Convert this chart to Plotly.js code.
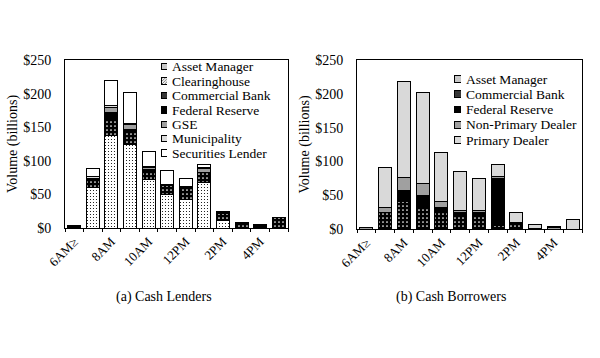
<!DOCTYPE html>
<html>
<head>
<meta charset="utf-8">
<script src="https://cdn.plot.ly/plotly-3.0.1.min.js"></script>
<style>html,body{margin:0;padding:0;background:#fff;}#chart{width:600px;height:358px;}</style>
</head>
<body>
<div id="chart"></div>
<script>
// ---- data ----
const hours = ['6AM≥','7AM','8AM','9AM','10AM','11AM','12PM','1PM','2PM','3PM','4PM','5PM'];
const hourLabels = ['6AM≥','','8AM','','10AM','','12PM','','2PM','','4PM',''];

// (a) Cash Lenders, $ billions
const lenderNames = ['Asset Manager','Clearinghouse','Commercial Bank','Federal Reserve','GSE','Municipality','Securities Lender'];
const lendAssetManager   = [0, 60, 137, 124, 72, 50, 43, 68, 11, 0, 0, 0];
const lendClearinghouse  = [0, 0, 0, 0, 0, 0, 0, 0, 0, 0, 0, 0];
const lendCommercialBank = [0, 10, 24, 21, 14, 13, 16, 14, 10, 7, 0, 16];
const lendFederalReserve = [3, 2, 11, 2, 1, 2, 2, 1, 0, 1, 5, 0];
const lendGSE            = [0, 1, 8, 7, 3, 0, 1, 5, 1, 0, 0, 0];
const lendMunicipality   = [0, 3, 3, 2, 2, 0, 0, 2, 1, 0, 0, 0];
const lendSecLender      = [0, 13, 36, 46, 22, 21, 12, 5, 2, 0, 0, 0];

// (b) Cash Borrowers, $ billions
const borrowerNames = ['Asset Manager','Commercial Bank','Federal Reserve','Non-Primary Dealer','Primary Dealer'];
const borAssetManager   = [0, 0, 1, 1, 0, 0, 0, 0, 0, 0, 0, 0];
const borCommercialBank = [0, 24, 40, 33, 25, 20, 18, 5, 6, 1, 0, 0];
const borFederalReserve = [0, 0, 16, 15, 7, 5, 6, 70, 3, 0, 0, 0];
const borNonPrimary     = [1.5, 8, 19, 18, 8, 3, 4, 2, 0, 0, 2, 0];
const borPrimary        = [0, 59, 142, 135, 73, 57, 46, 18, 15, 6, 2, 14];

const yTickVals = [0, 50, 100, 150, 200, 250];
const yTickText = ['$0','$50','$100','$150','$200','$250'];

// ---- styles ----
const FONT = 'Liberation Serif';
const styles = {
  'Asset Manager':      {color:'#ffffff', pattern:{shape:'.', fgcolor:'#000000', bgcolor:'#ffffff', size:3, solidity:0.12}},
  'Clearinghouse':      {color:'#ffffff', pattern:{shape:'/', fgcolor:'#000000', bgcolor:'#ffffff', size:3, solidity:0.3}},
  'Commercial Bank':    {color:'#000000', pattern:{shape:'.', fgcolor:'#ffffff', bgcolor:'#000000', size:4, solidity:0.15}},
  'Federal Reserve':    {color:'#000000'},
  'GSE':                {color:'#a0a0a0'},
  'Municipality':       {color:'#dcdcdc'},
  'Securities Lender':  {color:'#ffffff'},
  'Non-Primary Dealer': {color:'#a0a0a0'},
  'Primary Dealer':     {color:'#d9d9d9'}
};
function mk(name, small){
  const s = styles[name];
  const m = {color:s.color, line:{color:'#000', width:1}};
  if (s.pattern) {
    m.pattern = Object.assign({}, s.pattern);
    if (small) { m.pattern.size = 2; m.pattern.solidity = Math.max(0.25, s.pattern.solidity); }
  }
  return m;
}
function barTrace(name, vals, xa, ya){
  return {type:'bar', name:name, x:hours, y:vals, xaxis:xa, yaxis:ya,
          marker:mk(name), showlegend:false, hoverinfo:'skip'};
}
function legendTraces(names, xa, ya){
  return names.map(n=>({type:'bar', orientation:'h', y:[n], x:[1], xaxis:xa, yaxis:ya,
          width:0.45, showlegend:false, hoverinfo:'skip', marker:mk(n, true)}));
}

const lendSeries = [lendAssetManager, lendClearinghouse, lendCommercialBank, lendFederalReserve, lendGSE, lendMunicipality, lendSecLender];
const borSeries  = [borAssetManager, borCommercialBank, borFederalReserve, borNonPrimary, borPrimary];

let data = [];
lenderNames.forEach((n,i)=>data.push(barTrace(n, lendSeries[i], 'x', 'y')));
borrowerNames.forEach((n,i)=>data.push(barTrace(n, borSeries[i], 'x2', 'y2')));
data = data.concat(legendTraces(lenderNames, 'x3', 'y3'));
data = data.concat(legendTraces(borrowerNames, 'x4', 'y4'));

function xAxis(domain, anchor){
  return {domain:domain, anchor:anchor, type:'category', categoryorder:'array', categoryarray:hours,
          tickmode:'array', tickvals:hours, ticktext:hourLabels, tickangle:-45,
          tickson:'boundaries', ticks:'outside', ticklen:3, tickcolor:'#000',
          showline:true, linecolor:'#000', linewidth:1, mirror:true,
          showgrid:false, zeroline:false, range:[-0.5, 11.5],
          tickfont:{family:FONT, size:13, color:'#000'}, fixedrange:true};
}
function yAxis(domain, anchor){
  return {domain:domain, anchor:anchor, range:[0,250], tickmode:'array', tickvals:yTickVals, ticktext:yTickText,
          ticks:'', ticklabelstandoff:10, showline:true, linecolor:'#000', linewidth:1, mirror:true,
          showgrid:false, zeroline:false, tickfont:{family:FONT, size:14, color:'#000'},
          title:{text:'Volume (billions)', font:{family:FONT, size:14, color:'#000'}, standoff:2}};
}
function legX(domain, anchor){
  return {domain:domain, anchor:anchor, range:[0,1], visible:false, fixedrange:true};
}
function legY(domain, anchor, names){
  return {domain:domain, anchor:anchor, type:'category', categoryorder:'array', categoryarray:names,
          tickmode:'array', tickvals:names, ticktext:names,
          autorange:'reversed', side:'right', ticks:'', showline:false, showgrid:false, zeroline:false,
          ticklabelstandoff:4, tickfont:{family:FONT, size:13.5, color:'#000'}, fixedrange:true};
}

const layout = {
  width:600, height:358, margin:{l:0, r:0, t:0, b:0},
  paper_bgcolor:'#fff', plot_bgcolor:'rgba(0,0,0,0)',
  barmode:'stack', bargap:0.3, showlegend:false,
  font:{family:FONT, color:'#000'},
  xaxis: xAxis([65/600, 288/600], 'y'),
  yaxis: yAxis([1-228/358, 1-60/358], 'x'),
  xaxis2: xAxis([357/600, 582/600], 'y2'),
  yaxis2: yAxis([1-229/358, 1-60/358], 'x2'),
  xaxis3: legX([161/600, 167/600], 'y3'),
  yaxis3: legY([1-160.2/358, 1-59.5/358], 'x3', lenderNames),
  xaxis4: legX([454/600, 461/600], 'y4'),
  yaxis4: legY([1-147.6/358, 1-71.4/358], 'x4', borrowerNames),
  annotations:[
    {text:'(a) Cash Lenders', xref:'paper', yref:'paper', x:164/600, y:1-297/358, showarrow:false,
     font:{family:FONT, size:14, color:'#000'}, xanchor:'center', yanchor:'middle'},
    {text:'(b) Cash Borrowers', xref:'paper', yref:'paper', x:451/600, y:1-297/358, showarrow:false,
     font:{family:FONT, size:14, color:'#000'}, xanchor:'center', yanchor:'middle'}
  ]
};

Plotly.newPlot('chart', data, layout, {staticPlot:true, displayModeBar:false});
</script>
</body>
</html>
